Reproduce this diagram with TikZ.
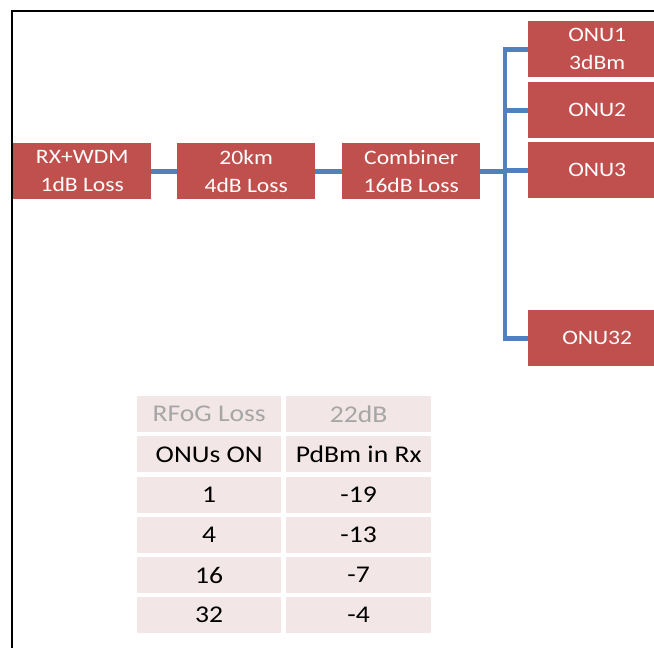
\documentclass[tikz,border=0pt]{standalone}
\usepackage{fontspec}
\setmainfont{Carlito}[FakeStretch=1.15]
\definecolor{boxred}{HTML}{C0504D}
\definecolor{linkblue}{HTML}{4F81BD}
\definecolor{cellpink}{HTML}{F2E6E6}
\definecolor{headgray}{HTML}{A6A6A6}
\begin{document}
\begin{tikzpicture}[x=1pt,y=-1pt,
  blk/.style={rectangle,fill=boxred,text=white,minimum width=138pt,minimum height=56pt,
    inner sep=0pt,align=center,font=\fontsize{20.5}{28}\selectfont,anchor=north west},
  link/.style={draw=linkblue,line width=4.6pt},
  cell/.style={rectangle,fill=cellpink,minimum height=36pt,inner sep=0pt,
    font=\fontsize{24}{28}\selectfont,anchor=north west},
  c1/.style={cell,minimum width=144pt},
  c2/.style={cell,minimum width=145pt}]
\useasboundingbox (0,0) rectangle (654,648);
\begin{scope}
\clip (0,0) rectangle (654,648);
% frame
\draw[line width=2pt] (12,660) -- (12,11) -- (670,11);
% chain
\node[blk] (rx) at (13,143) {RX+WDM\\1dB Loss};
\node[blk] (km) at (177,143) {20km\\4dB Loss};
\node[blk] (comb) at (342,143) {Combiner\\16dB Loss};
\node[blk] (onu1) at (528,21) {ONU1\\3dBm};
\node[blk] (onu2) at (528,82) {ONU2};
\node[blk] (onu3) at (528,142) {ONU3};
\node[blk] (onu32) at (528,310) {ONU32};
\coordinate (bus) at (505,0);
\draw[link] (rx) -- (km);
\draw[link] (km) -- (comb);
\draw[link] (comb.east) -- (comb.east -| bus);
\draw[link,line join=miter] (onu1.west) -- (onu1.west -| bus) -- (onu32.west -| bus) -- (onu32.west);
\draw[link] (onu2.west -| bus) -- (onu2.west);
\draw[link] (onu3.west -| bus) -- (onu3.west);
% table
\node[c1,text=headgray] (h1) at (137,396) {RFoG Loss};
\node[c2,text=headgray] (h2) at (286,396) {22dB};
\node[c1] (a1) at (137,436.2) {ONUs ON};
\node[c2] (b1) at (286,436.2) {PdBm in Rx};
\node[c1] (a2) at (137,476.4) {1};
\node[c2] (b2) at (286,476.4) {-19};
\node[c1] (a3) at (137,516.6) {4};
\node[c2] (b3) at (286,516.6) {-13};
\node[c1] (a4) at (137,556.8) {16};
\node[c2] (b4) at (286,556.8) {-7};
\node[c1] (a5) at (137,597) {32};
\node[c2] (b5) at (286,597) {-4};
\end{scope}
\end{tikzpicture}
\end{document}
